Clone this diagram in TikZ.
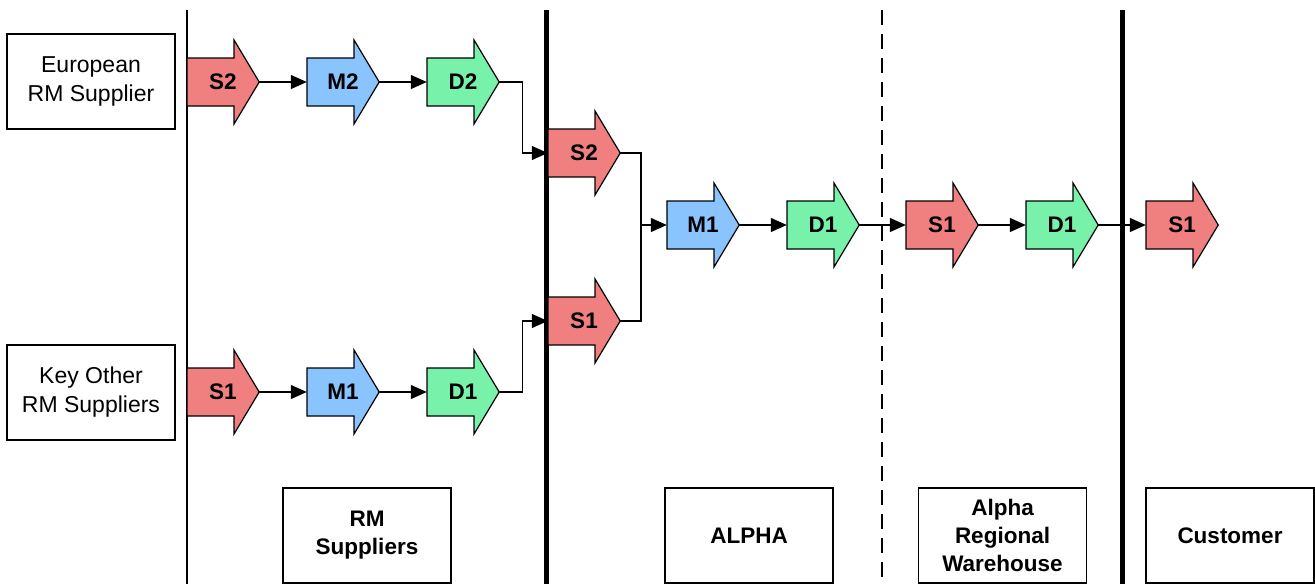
\documentclass[tikz,border=0pt]{standalone}
\usepackage{fontspec}
\setmainfont{Liberation Sans}
\usetikzlibrary{arrows.meta,backgrounds}
\definecolor{cred}{RGB}{240,128,128}
\definecolor{cblue}{RGB}{138,196,255}
\definecolor{cgreen}{RGB}{120,242,170}
\tikzset{
 arr/.style={rectangle, minimum width=72pt, minimum height=84pt, inner sep=0pt, font=\fontsize{22.5}{26}\selectfont\bfseries},
 box/.style={draw, line width=1.2pt, inner sep=0pt, minimum width=168pt, minimum height=95pt, align=center},
 lbl/.style={box, font=\fontsize{23}{29}\selectfont},
 blbl/.style={box, font=\fontsize{22.5}{28}\selectfont\bfseries},
 conn/.style={line width=1.2pt, -{Triangle[length=16pt,width=14pt]}},
 plainline/.style={line width=1.2pt},
 shp/.style={draw, line width=1.2pt, line join=miter},
 thinsep/.style={line width=1.5pt},
 thicksep/.style={line width=5pt},
 dashsep/.style={line width=1.2pt, dash pattern=on 15pt off 9pt},
}
\newcommand{\arrowshp}[2]{\path[shp, fill=#2] ([shift={(-36pt,24pt)}]#1.center) -- ++(47pt,0) -- ++(0,18pt) -- (#1.east) -- ([shift={(11pt,-42pt)}]#1.center) -- ++(0,18pt) -- ([shift={(-36pt,-24pt)}]#1.center) -- cycle;}
\begin{document}
\begin{tikzpicture}[x=1pt,y=1pt]
\useasboundingbox (0,0) rectangle (1315,-584);
% left boxes
\node[lbl] (eur) at (91,-81.5) {European\\RM Supplier};
\node[lbl] (key) at (91,-392.5) {Key Other\\RM Suppliers};
% bottom boxes
\node[blbl] (rms) at (367,-535.5) {RM\\Suppliers};
\node[blbl] (alp) at (749,-535.5) {ALPHA};
\node[blbl] (wh) at (1002.5,-535.5) {Alpha\\Regional\\Warehouse};
\node[blbl] (cus) at (1230,-535.5) {Customer};
% arrow nodes
\node[arr] (s2a) at (223,-82) {S2};
\node[arr] (m2a) at (343,-82) {M2};
\node[arr] (d2a) at (463,-82) {D2};
\node[arr] (s1a) at (223,-392) {S1};
\node[arr] (m1a) at (343,-392) {M1};
\node[arr] (d1a) at (463,-392) {D1};
\node[arr] (s2b) at (584,-153) {S2};
\node[arr] (s1b) at (584,-321) {S1};
\node[arr] (m1b) at (703,-225) {M1};
\node[arr] (d1b) at (823,-225) {D1};
\node[arr] (s1c) at (942,-225) {S1};
\node[arr] (d1c) at (1062,-225) {D1};
\node[arr] (s1d) at (1182,-225) {S1};
\coordinate (j) at (641,-225);
\begin{scope}[on background layer]
\draw[thinsep] (187,-10) -- (187,-584);
\draw[thicksep] (546,-10) -- (546,-584);
\draw[dashsep] (882,-10) -- (882,-584);
\draw[thicksep] (1122,-10) -- (1122,-584);
\arrowshp{s2a}{cred}
\arrowshp{m2a}{cblue}
\arrowshp{d2a}{cgreen}
\arrowshp{s1a}{cred}
\arrowshp{m1a}{cblue}
\arrowshp{d1a}{cgreen}
\arrowshp{s2b}{cred}
\arrowshp{s1b}{cred}
\arrowshp{m1b}{cblue}
\arrowshp{d1b}{cgreen}
\arrowshp{s1c}{cred}
\arrowshp{d1c}{cgreen}
\arrowshp{s1d}{cred}
\end{scope}
% connectors
\draw[conn] (s2a.east) -- (m2a.west);
\draw[conn] (m2a.east) -- (d2a.west);
\draw[conn] (s1a.east) -- (m1a.west);
\draw[conn] (m1a.east) -- (d1a.west);
\draw[conn] (d2a.east) -- ++(23,0) |- (s2b.west);
\draw[conn] (d1a.east) -- ++(23,0) |- (s1b.west);
\draw[plainline] (s2b.east) -| (j);
\draw[plainline] (s1b.east) -| (j);
\draw[conn] (j) -- (m1b.west);
\draw[conn] (m1b.east) -- (d1b.west);
\draw[conn] (d1b.east) -- (s1c.west);
\draw[conn] (s1c.east) -- (d1c.west);
\draw[conn] (d1c.east) -- (s1d.west);
\end{tikzpicture}
\end{document}
